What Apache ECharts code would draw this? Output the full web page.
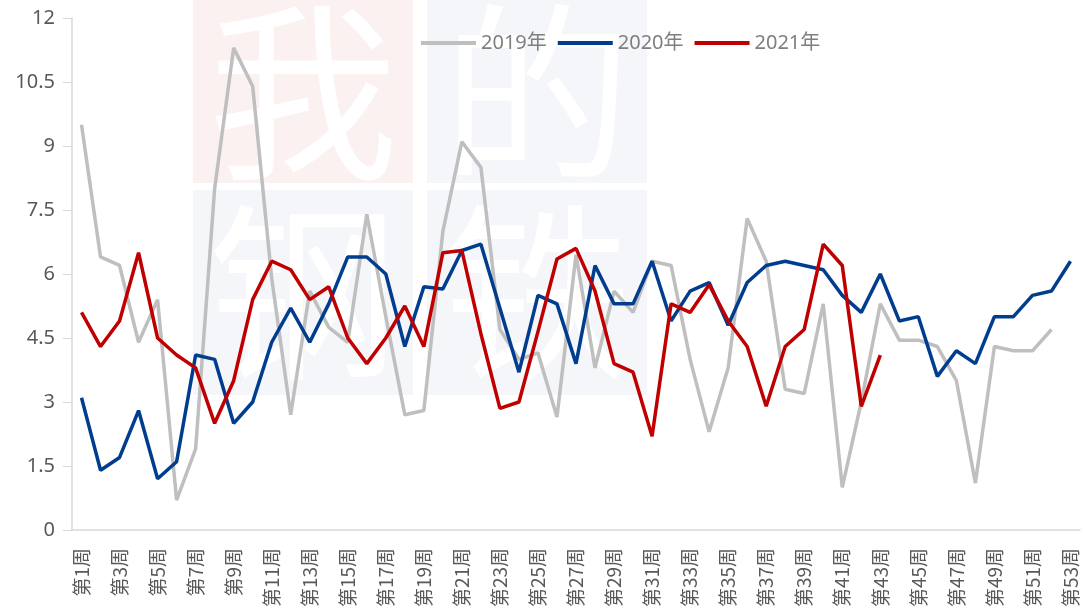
<!DOCTYPE html>
<html>
<head>
<meta charset="utf-8">
<script src="https://cdn.jsdelivr.net/npm/echarts@6.0.0/dist/echarts.min.js"></script>
<style>
  html, body { margin: 0; padding: 0; background: #fff; }
</style>
</head>
<body>
<div id="main" style="width:1084px;height:616px;"></div>
<script type="text/javascript">
// 周次
var weeks = [];
for (var i = 1; i <= 53; i++) { weeks.push('第' + i + '周'); }

// 2019年
var data2019 = [9.5, 6.4, 6.2, 4.4, 5.4, 0.7, 1.9, 8.0, 11.3, 10.4,
  5.9, 2.7, 5.6, 4.75, 4.4, 7.4, 5.0, 2.7, 2.8, 7.0,
  9.1, 8.5, 4.7, 4.0, 4.15, 2.65, 6.45, 3.8, 5.6, 5.1,
  6.3, 6.2, 4.0, 2.3, 3.8, 7.3, 6.3, 3.3, 3.2, 5.3,
  1.0, 3.0, 5.3, 4.45, 4.45, 4.3, 3.5, 1.1, 4.3, 4.2,
  4.2, 4.7, null];
// 2020年
var data2020 = [3.1, 1.4, 1.7, 2.8, 1.2, 1.6, 4.1, 4.0, 2.5, 3.0,
  4.4, 5.2, 4.4, 5.3, 6.4, 6.4, 6.0, 4.3, 5.7, 5.65,
  6.55, 6.7, 5.2, 3.7, 5.5, 5.3, 3.9, 6.2, 5.3, 5.3,
  6.3, 4.9, 5.6, 5.8, 4.8, 5.8, 6.2, 6.3, 6.2, 6.1,
  5.5, 5.1, 6.0, 4.9, 5.0, 3.6, 4.2, 3.9, 5.0, 5.0,
  5.5, 5.6, 6.3];
// 2021年
var data2021 = [5.1, 4.3, 4.9, 6.5, 4.5, 4.1, 3.8, 2.5, 3.5, 5.4,
  6.3, 6.1, 5.4, 5.7, 4.5, 3.9, 4.5, 5.25, 4.3, 6.5,
  6.55, 4.6, 2.85, 3.0, 4.65, 6.35, 6.6, 5.6, 3.9, 3.7,
  2.2, 5.3, 5.1, 5.75, 4.9, 4.3, 2.9, 4.3, 4.7, 6.7,
  6.2, 2.9, 4.1];

var yTicks = { min: 0, max: 12, interval: 1.5 };

var myChart = echarts.init(document.getElementById('main'));

// 水印
var wmFont = { fill: '#fff', fontSize: 190, fontFamily: '"Noto Sans CJK SC"', fontWeight: 'normal', align: 'center', verticalAlign: 'middle' };
var wm = [
  { type: 'rect', shape: { x: 193, y: 0, width: 220, height: 183 }, style: { fill: '#fcf1f1' }, z: -20 },
  { type: 'rect', shape: { x: 427, y: 0, width: 220, height: 183 }, style: { fill: '#f4f6f9' }, z: -20 },
  { type: 'rect', shape: { x: 193, y: 190, width: 220, height: 205 }, style: { fill: '#f4f6f9' }, z: -20 },
  { type: 'rect', shape: { x: 427, y: 190, width: 220, height: 205 }, style: { fill: '#f4f6f9' }, z: -20 },
  { type: 'text', x: 303, y: 92, style: Object.assign({ text: '我' }, wmFont), z: -19 },
  { type: 'text', x: 537, y: 92, style: Object.assign({ text: '的' }, wmFont), z: -19 },
  { type: 'text', x: 303, y: 292, style: Object.assign({ text: '钢' }, wmFont), z: -19 },
  { type: 'text', x: 537, y: 292, style: Object.assign({ text: '铁' }, wmFont), z: -19 },
  { type: 'text', x: 45, y: 545, style: { text: 'Mysteel.com', fill: '#f3f3f3', fontSize: 178, fontWeight: 'bold', fontFamily: '"Liberation Sans"', verticalAlign: 'alphabetic' }, z: -18 },
  { type: 'rect', shape: { x: 0, y: 531, width: 1084, height: 85 }, style: { fill: '#fff' }, z: -17 }
];

var option = {
  backgroundColor: '#fff',
  animation: false,
  graphic: { elements: wm },
  grid: { left: 72, right: 4, top: 18, bottom: 86, containLabel: false },
  legend: {
    left: 416,
    top: 28,
    icon: 'rect',
    itemWidth: 55,
    itemHeight: 4,
    itemGap: 11,
    textStyle: { color: '#7f7f7f', fontSize: 20, fontFamily: '"Noto Sans", "Noto Sans CJK SC", sans-serif' },
    data: ['2019年', '2020年', '2021年']
  },
  xAxis: {
    type: 'category',
    data: weeks,
    boundaryGap: true,
    axisLine: { lineStyle: { color: '#d9d9d9', width: 1.5 } },
    axisTick: { interval: 0, length: 6, lineStyle: { color: '#d9d9d9' } },
    axisLabel: {
      interval: 1,
      rotate: 90,
      margin: 18,
      color: '#595959',
      fontSize: 19,
      fontFamily: '"Noto Sans CJK SC", sans-serif'
    },
    splitLine: { show: false }
  },
  yAxis: {
    type: 'value',
    min: yTicks.min,
    max: yTicks.max,
    interval: yTicks.interval,
    axisLine: { show: true, lineStyle: { color: '#d9d9d9', width: 1.5 } },
    axisTick: { show: true, length: 9, lineStyle: { color: '#d9d9d9' } },
    axisLabel: { color: '#595959', fontSize: 20, margin: 17, fontFamily: '"Noto Sans", sans-serif' },
    splitLine: { show: false }
  },
  series: [
    {
      name: '2019年', type: 'line', data: data2019, symbol: 'none',
      lineStyle: { color: '#bfbfbf', width: 3.5 }, itemStyle: { color: '#bfbfbf' }, z: 2
    },
    {
      name: '2020年', type: 'line', data: data2020, symbol: 'none',
      lineStyle: { color: '#003d8f', width: 3.5 }, itemStyle: { color: '#003d8f' }, z: 3
    },
    {
      name: '2021年', type: 'line', data: data2021, symbol: 'none',
      lineStyle: { color: '#c00000', width: 3.5 }, itemStyle: { color: '#c00000' }, z: 4
    }
  ]
};

myChart.setOption(option);
</script>
</body>
</html>
